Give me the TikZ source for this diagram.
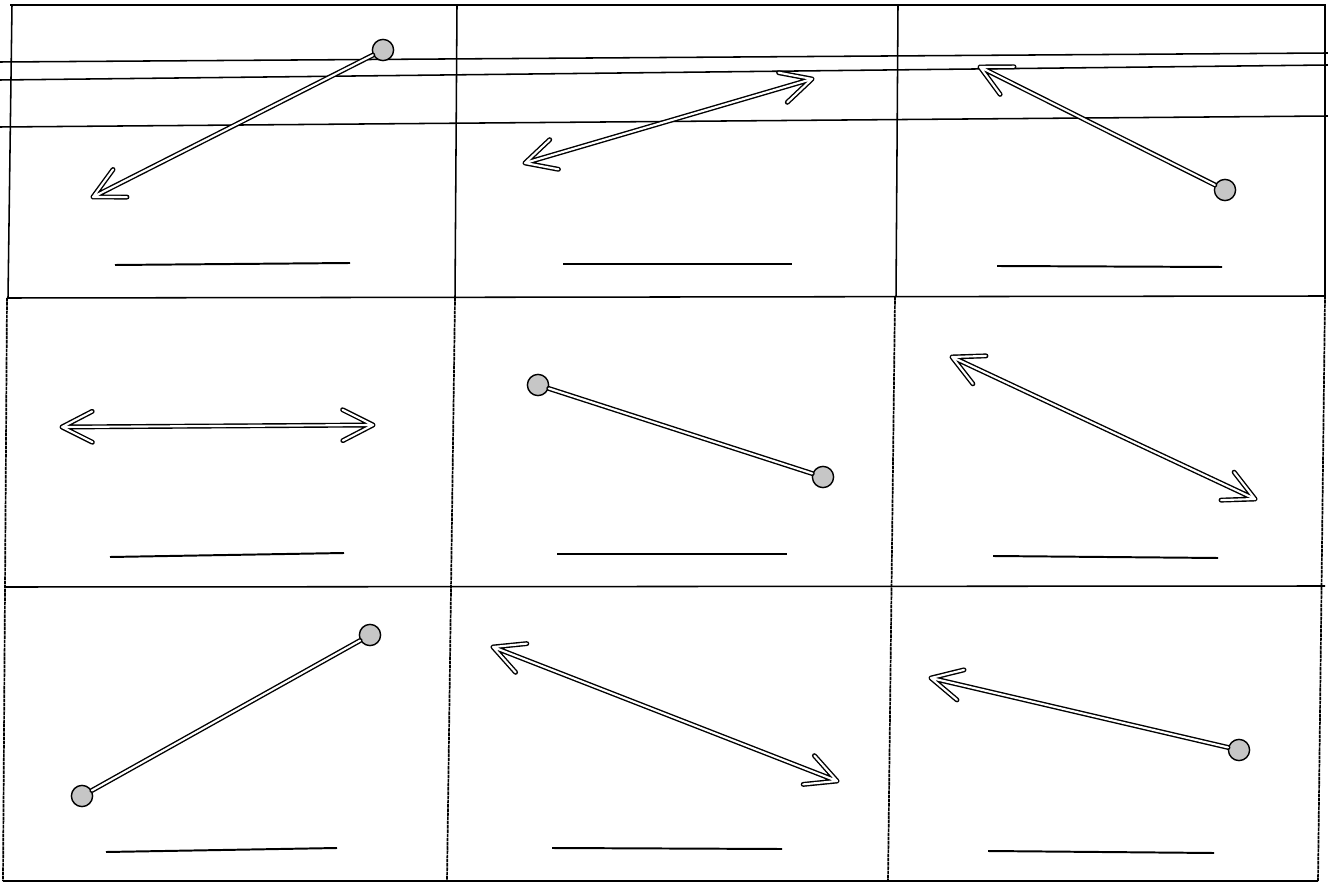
\documentclass[tikz,border=0pt]{standalone}
\usetikzlibrary{calc}

\tikzset{
  figline/.style={draw=black, line width=1pt, double=white, double distance=1.5pt, line cap=round, line join=round},
  dotend/.style={circle, draw=black, line width=1pt, fill=gray!45, minimum size=5.3mm, inner sep=0pt},
  answer/.style={line width=1.4pt},
  cellrule/.style={line width=1.1pt},
  roughrule/.style={line width=1.2pt, dash pattern=on 2.5pt off 0.5pt}
}

\begin{document}
\begin{tikzpicture}[x=0.25mm, y=-0.25mm]
  \useasboundingbox (0,0) rectangle (1328,883);
  % grid
  \draw[cellrule] (10,5) -- (1326,5);
  \draw[cellrule] (12,5) -- (8,298) -- (1325,296);
  \draw[cellrule] (457,5) -- (455,298);
  \draw[cellrule] (898,5) -- (896,297);
  \draw[cellrule] (1325,5) -- (1325,296);
  \draw[roughrule] (7,298) -- (3,881);
  \draw[roughrule] (455,298) -- (447,881);
  \draw[roughrule] (895,297) -- (888,881);
  \draw[roughrule] (1325,296) -- (1318,881);
  \draw[cellrule] (5,587) -- (1325,586);
  \draw[cellrule] (3,881) -- (1318,881);
  % header rules of the top row
  \draw[cellrule] (0,62) -- (1328,53);
  \draw[cellrule] (0,80) -- (1328,65);
  \draw[cellrule] (0,127) -- (1328,116);

  % row 1: ray
  \node[dotend] (d11) at (383,50) {};
  \coordinate (t11) at (93,197);
  \draw[figline] (d11) -- (t11) ($(t11)!8.5mm!27:(d11)$) -- (t11) -- ($(t11)!8.5mm!-27:(d11)$);
  \draw[answer] (115,265) -- (350,263);
  % row 1: line
  \coordinate (p12) at (525,163); \coordinate (q12) at (812,79);
  \draw[figline] (p12) -- (q12) ($(p12)!8.5mm!27:(q12)$) -- (p12) -- ($(p12)!8.5mm!-27:(q12)$)
    ($(q12)!8.5mm!27:(p12)$) -- (q12) -- ($(q12)!8.5mm!-27:(p12)$);
  \draw[answer] (563,264) -- (792,264);
  % row 1: ray
  \node[dotend] (d13) at (1225,190) {};
  \coordinate (t13) at (980,67);
  \draw[figline] (d13) -- (t13) ($(t13)!8.5mm!27:(d13)$) -- (t13) -- ($(t13)!8.5mm!-27:(d13)$);
  \draw[answer] (997,266) -- (1222,267);

  % row 2: line
  \coordinate (p21) at (62,427); \coordinate (q21) at (373,425);
  \draw[figline] (p21) -- (q21) ($(p21)!8.5mm!27:(q21)$) -- (p21) -- ($(p21)!8.5mm!-27:(q21)$)
    ($(q21)!8.5mm!27:(p21)$) -- (q21) -- ($(q21)!8.5mm!-27:(p21)$);
  \draw[answer] (110,557) -- (344,553);
  % row 2: segment
  \node[dotend] (a22) at (538,385) {};
  \node[dotend] (b22) at (823,477) {};
  \draw[figline] (a22) -- (b22);
  \draw[answer] (557,554) -- (787,554);
  % row 2: line
  \coordinate (p23) at (952,357); \coordinate (q23) at (1255,499);
  \draw[figline] (p23) -- (q23) ($(p23)!8.5mm!27:(q23)$) -- (p23) -- ($(p23)!8.5mm!-27:(q23)$)
    ($(q23)!8.5mm!27:(p23)$) -- (q23) -- ($(q23)!8.5mm!-27:(p23)$);
  \draw[answer] (993,556) -- (1218,558);

  % row 3: segment
  \node[dotend] (a31) at (82,796) {};
  \node[dotend] (b31) at (370,635) {};
  \draw[figline] (a31) -- (b31);
  \draw[answer] (106,852) -- (337,848);
  % row 3: line
  \coordinate (p32) at (493,647); \coordinate (q32) at (837,781);
  \draw[figline] (p32) -- (q32) ($(p32)!8.5mm!27:(q32)$) -- (p32) -- ($(p32)!8.5mm!-27:(q32)$)
    ($(q32)!8.5mm!27:(p32)$) -- (q32) -- ($(q32)!8.5mm!-27:(p32)$);
  \draw[answer] (552,848) -- (782,849);
  % row 3: ray
  \node[dotend] (d33) at (1239,750) {};
  \coordinate (t33) at (931,678);
  \draw[figline] (d33) -- (t33) ($(t33)!8.5mm!27:(d33)$) -- (t33) -- ($(t33)!8.5mm!-27:(d33)$);
  \draw[answer] (988,851) -- (1214,853);
\end{tikzpicture}
\end{document}
